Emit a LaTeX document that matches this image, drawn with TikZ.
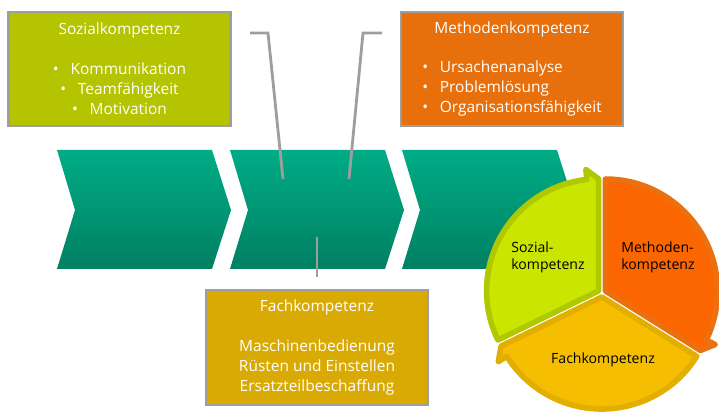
\documentclass[tikz,border=0pt]{standalone}
\usepackage{fontspec}
\setmainfont{Open Sans}
\usepackage{tikz}

\definecolor{sozgreen}{RGB}{181,196,0}
\definecolor{methorange}{RGB}{232,112,12}
\definecolor{fachgold}{RGB}{218,170,4}
\definecolor{kframe}{RGB}{158,158,158}
\definecolor{chevtop}{RGB}{0,172,134}
\definecolor{chevbot}{RGB}{0,128,98}
\definecolor{piegreenout}{RGB}{176,200,0}
\definecolor{piegreenin}{RGB}{202,230,0}
\definecolor{pieorangeout}{RGB}{234,112,16}
\definecolor{pieorangein}{RGB}{252,102,0}
\definecolor{piegoldout}{RGB}{226,174,0}
\definecolor{piegoldin}{RGB}{246,190,0}

\newcommand{\kitem}[1]{\makebox[12.5pt][l]{\textbullet}#1}

\begin{document}
\begin{tikzpicture}[x=0.025cm,y=0.025cm,
	kbox/.style={draw=kframe,line width=2pt,text=white,minimum width=5.55cm,minimum height=2.85cm,font=\fontsize{11}{14.2}\selectfont},
	bracket/.style={draw=kframe,line width=2pt},
	pietext/.style={font=\fontsize{10}{12}\selectfont,align=left,text=black}]
	\useasboundingbox (0,0) rectangle (719,412);

	% chevrons
	\foreach \s in {0,173,345}
		\shade[top color=chevtop,bottom color=chevbot,shift={(\s,0)}] (57,262) -- (212,262) -- (231,202) -- (212,143) -- (57,143) -- (75,202) -- cycle;

	% boxes
	\node[kbox,fill=sozgreen,align=center] (soz) at (119.5,343) {Sozialkompetenz\\[14.2pt]\kitem{Kommunikation}\\\kitem{Teamfähigkeit}\\\kitem{Motivation}};
	\node[kbox,fill=methorange] (meth) at (512,343) {\begin{tabular}{@{}l@{}}\multicolumn{1}{@{}c@{}}{Methodenkompetenz}\\[14.2pt]\kitem{Ursachenanalyse}\\\kitem{Problemlösung}\\\kitem{Organisationsfähigkeit}\end{tabular}};
	\node[kbox,fill=fachgold,align=center,minimum height=2.875cm] (fach) at (317,64.5) {Fachkompetenz\\[14.2pt]Maschinenbedienung\\Rüsten und Einstellen\\Ersatzteilbeschaffung};

	% brackets
	\coordinate (sozend) at (250,379);
	\coordinate (sozfoot) at (283,233);
	\coordinate (methend) at (382,379);
	\coordinate (methfoot) at (349,233);
	\coordinate (fachfoot) at (317,175);
	\draw[bracket] (sozend) -- ++(18,0) -- (sozfoot);
	\draw[bracket] (methend) -- ++(-19,0) -- (methfoot);
	\draw[bracket] (fachfoot) -- ++(0,-40);

	% cycle
	\foreach \a/\b/\m/\co/\ci in {206/90/148/piegreenout/piegreenin,90/-32/29/pieorangeout/pieorangein,-32/-154/-93/piegoldout/piegoldin}
		\filldraw[shift={(602,119)},shift={(\m:4)},fill=\ci,draw=\co,line width=4pt,line join=round]
			(0,0) -- (\a:112) arc[start angle=\a,end angle=\b+6,radius=112] -- (\b+6:122) -- (\b:112) -- cycle;
	\node[pietext] (psoz) at (548,155) {Sozial-\\kompetenz};
	\node[pietext] (pmeth) at (658,155) {Methoden-\\kompetenz};
	\node[pietext] (pfach) at (603,52) {Fachkompetenz};
\end{tikzpicture}
\end{document}
